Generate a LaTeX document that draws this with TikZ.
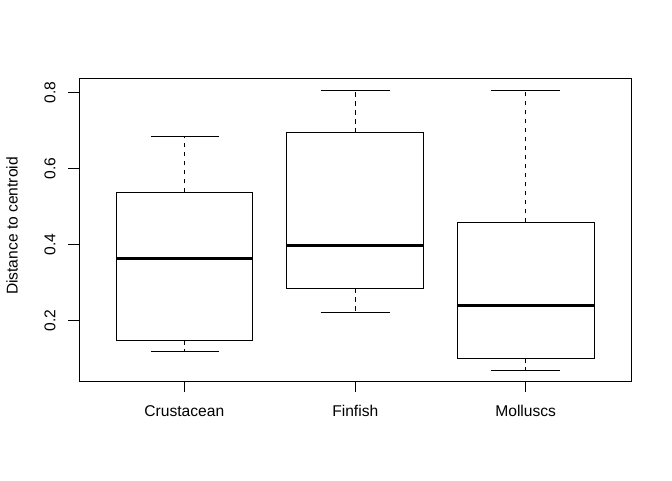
\documentclass[tikz,border=0pt]{standalone}
\usepackage{fontspec}
\setmainfont{Liberation Sans}

\begin{document}
\begin{tikzpicture}
		[x=1pt,y=-1pt,line cap=butt,
		%Styles
		frame line/.style={line width=0.9pt},
		whisker/.style={line width=0.9pt,dash pattern=on 4.5pt off 4.5pt},
		median line/.style={line width=3pt},
		axis text/.style={font=\fontsize{15.6}{18}\selectfont,inner sep=0pt}
		]
		\useasboundingbox (0,0) rectangle (672,480);
		
		%Plot frame
		\draw[frame line] (79,78.3) rectangle (631.7,381.7);
		
		%y axis
		\foreach \n/\py/\v in {1/320.7/0.2, 2/244.6/0.4, 3/168.4/0.6, 4/92.3/0.8}
		{
			\draw[frame line] (68.3,\py) -- (79,\py);
			\node[axis text,rotate=90] (ylab\n) at (50,\py) {\v};
		}
		\node[axis text,rotate=90] (ytitle) at (12,226) {Distance to centroid};
		
		%x axis
		\draw[frame line] (184.3,381.7) -- (184.3,391.7);
		\draw[frame line] (355.3,381.7) -- (355.3,391.7);
		\draw[frame line] (525.7,381.7) -- (525.7,391.7);
		\node[axis text] (crust) at (184.3,411) {Crustacean};
		\node[axis text] (fin) at (355.3,411) {Finfish};
		\node[axis text] (moll) at (525.7,411) {Molluscs};
		
		%Crustacean
		\draw[whisker] (184.3,192.3) -- (184.3,136.3);
		\draw[whisker] (184.3,340) -- (184.3,351.3);
		\draw[frame line] (150.7,136.3) -- (219,136.3);
		\draw[frame line] (150.7,351.3) -- (219,351.3);
		\draw[frame line] (116,192.3) rectangle (252.7,340);
		\draw[median line] (116,258.3) -- (252.7,258.3);
		
		%Finfish
		\draw[whisker] (355.3,132.7) -- (355.3,90);
		\draw[whisker] (355.3,288.3) -- (355.3,312.7);
		\draw[frame line] (320.7,90) -- (389.7,90);
		\draw[frame line] (320.7,312.7) -- (389.7,312.7);
		\draw[frame line] (286.7,132.7) rectangle (423.3,288.3);
		\draw[median line] (286.7,245.7) -- (423.3,245.7);
		
		%Molluscs
		\draw[whisker] (525.7,222.3) -- (525.7,90);
		\draw[whisker] (525.7,358.3) -- (525.7,370.7);
		\draw[frame line] (491.3,90) -- (560,90);
		\draw[frame line] (491.3,370.7) -- (560,370.7);
		\draw[frame line] (457.3,222.3) rectangle (594.3,358.3);
		\draw[median line] (457.3,305) -- (594.3,305);
	\end{tikzpicture}
\end{document}
